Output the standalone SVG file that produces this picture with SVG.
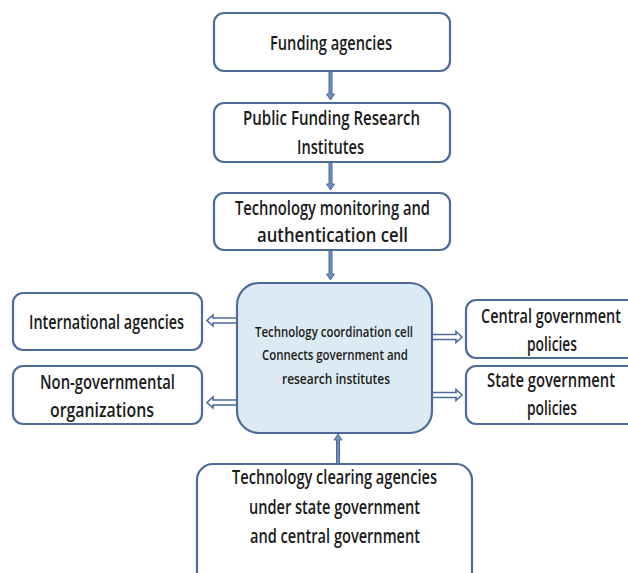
<svg xmlns="http://www.w3.org/2000/svg" width="628" height="573" viewBox="0 0 628 573">
<style>
.box{fill:#fff;stroke:#4c6b9a;stroke-width:2.2}
.cbox{fill:#dcebf3;stroke:#4c6b9a;stroke-width:2.2}
.t{font-family:"Open Sans","Liberation Sans",Arial,sans-serif;font-size:19px;font-weight:600;fill:#1a1a1a}
.ts{font-family:"Open Sans","Liberation Sans",Arial,sans-serif;font-size:14px;font-weight:600;fill:#1a1a1a}
.va{fill:#6f8fbf;stroke:#4c6b9a;stroke-width:1}
.ha{fill:#fff;stroke:#4c6b9a;stroke-width:1.6}
</style>
<rect width="628" height="573" fill="#fff"/>
<g id="connectors">
  <polygon class="va" points="329,71 332,71 332,94 334.5,94 330.5,100 326.5,94 329,94"/>
  <polygon class="va" points="329,162 332,162 332,184 334.5,184 330.5,190 326.5,184 329,184"/>
  <polygon class="va" points="329,250 332,250 332,274 334.5,274 330.5,280 326.5,274 329,274"/>
  <polygon class="va" points="336.5,464 339.5,464 339.5,440 342,440 338,434 334,440 336.5,440"/>
  <polygon class="ha" points="237,318 213,318 213,315 207,320.5 213,326 213,323 237,323"/>
  <polygon class="ha" points="237,400 213,400 213,397 207,402.5 213,408 213,405 237,405"/>
  <polygon class="ha" points="432,334.5 456,334.5 456,331.5 462,337 456,342.5 456,339.5 432,339.5"/>
  <polygon class="ha" points="432,392.5 456,392.5 456,389.5 462,395 456,400.5 456,397.5 432,397.5"/>
</g>
<g id="funding">
  <rect class="box" x="214" y="13" width="236" height="58" rx="10"/>
  <text class="t" x="270" y="50" textLength="122" lengthAdjust="spacingAndGlyphs">Funding agencies</text>
</g>
<g id="public">
  <rect class="box" x="214" y="103" width="236" height="59" rx="10"/>
  <text class="t" x="243" y="125" textLength="177" lengthAdjust="spacingAndGlyphs">Public  Funding Research</text>
  <text class="t" x="297" y="154" textLength="67" lengthAdjust="spacingAndGlyphs">Institutes</text>
</g>
<g id="monitoring">
  <rect class="box" x="214" y="193" width="236" height="57" rx="10"/>
  <text class="t" x="235" y="215" textLength="195" lengthAdjust="spacingAndGlyphs">Technology monitoring and</text>
  <text class="t" x="257" y="242" textLength="151" lengthAdjust="spacingAndGlyphs">authentication cell</text>
</g>
<g id="coordination">
  <rect class="cbox" x="237" y="283" width="195" height="150" rx="22"/>
  <text class="ts" x="255" y="337" textLength="158" lengthAdjust="spacingAndGlyphs">Technology coordination cell</text>
  <text class="ts" x="262" y="360" textLength="146" lengthAdjust="spacingAndGlyphs">Connects government and</text>
  <text class="ts" x="282" y="384" textLength="108" lengthAdjust="spacingAndGlyphs">research  institutes</text>
</g>
<g id="international">
  <rect class="box" x="13" y="293" width="189" height="57" rx="10"/>
  <text class="t" x="29" y="329" textLength="155" lengthAdjust="spacingAndGlyphs">International agencies</text>
</g>
<g id="ngo">
  <rect class="box" x="13" y="366" width="189" height="58" rx="10"/>
  <text class="t" x="40" y="389" textLength="135" lengthAdjust="spacingAndGlyphs">Non-governmental</text>
  <text class="t" x="50" y="417" textLength="104" lengthAdjust="spacingAndGlyphs">organizations</text>
</g>
<g id="central">
  <rect class="box" x="466" y="300" width="180" height="58" rx="10"/>
  <text class="t" x="481" y="323" textLength="140" lengthAdjust="spacingAndGlyphs">Central government</text>
  <text class="t" x="527" y="351" textLength="50" lengthAdjust="spacingAndGlyphs">policies</text>
</g>
<g id="state">
  <rect class="box" x="466" y="366" width="180" height="58" rx="10"/>
  <text class="t" x="487" y="387" textLength="128" lengthAdjust="spacingAndGlyphs">State government</text>
  <text class="t" x="527" y="415" textLength="50" lengthAdjust="spacingAndGlyphs">policies</text>
</g>
<g id="clearing">
  <rect class="box" x="197" y="464" width="275" height="125" rx="16"/>
  <text class="t" x="232" y="484" textLength="205" lengthAdjust="spacingAndGlyphs">Technology clearing agencies</text>
  <text class="t" x="249" y="514" textLength="171" lengthAdjust="spacingAndGlyphs">under state government</text>
  <text class="t" x="250" y="543" textLength="170" lengthAdjust="spacingAndGlyphs">and central government</text>
</g>
</svg>
